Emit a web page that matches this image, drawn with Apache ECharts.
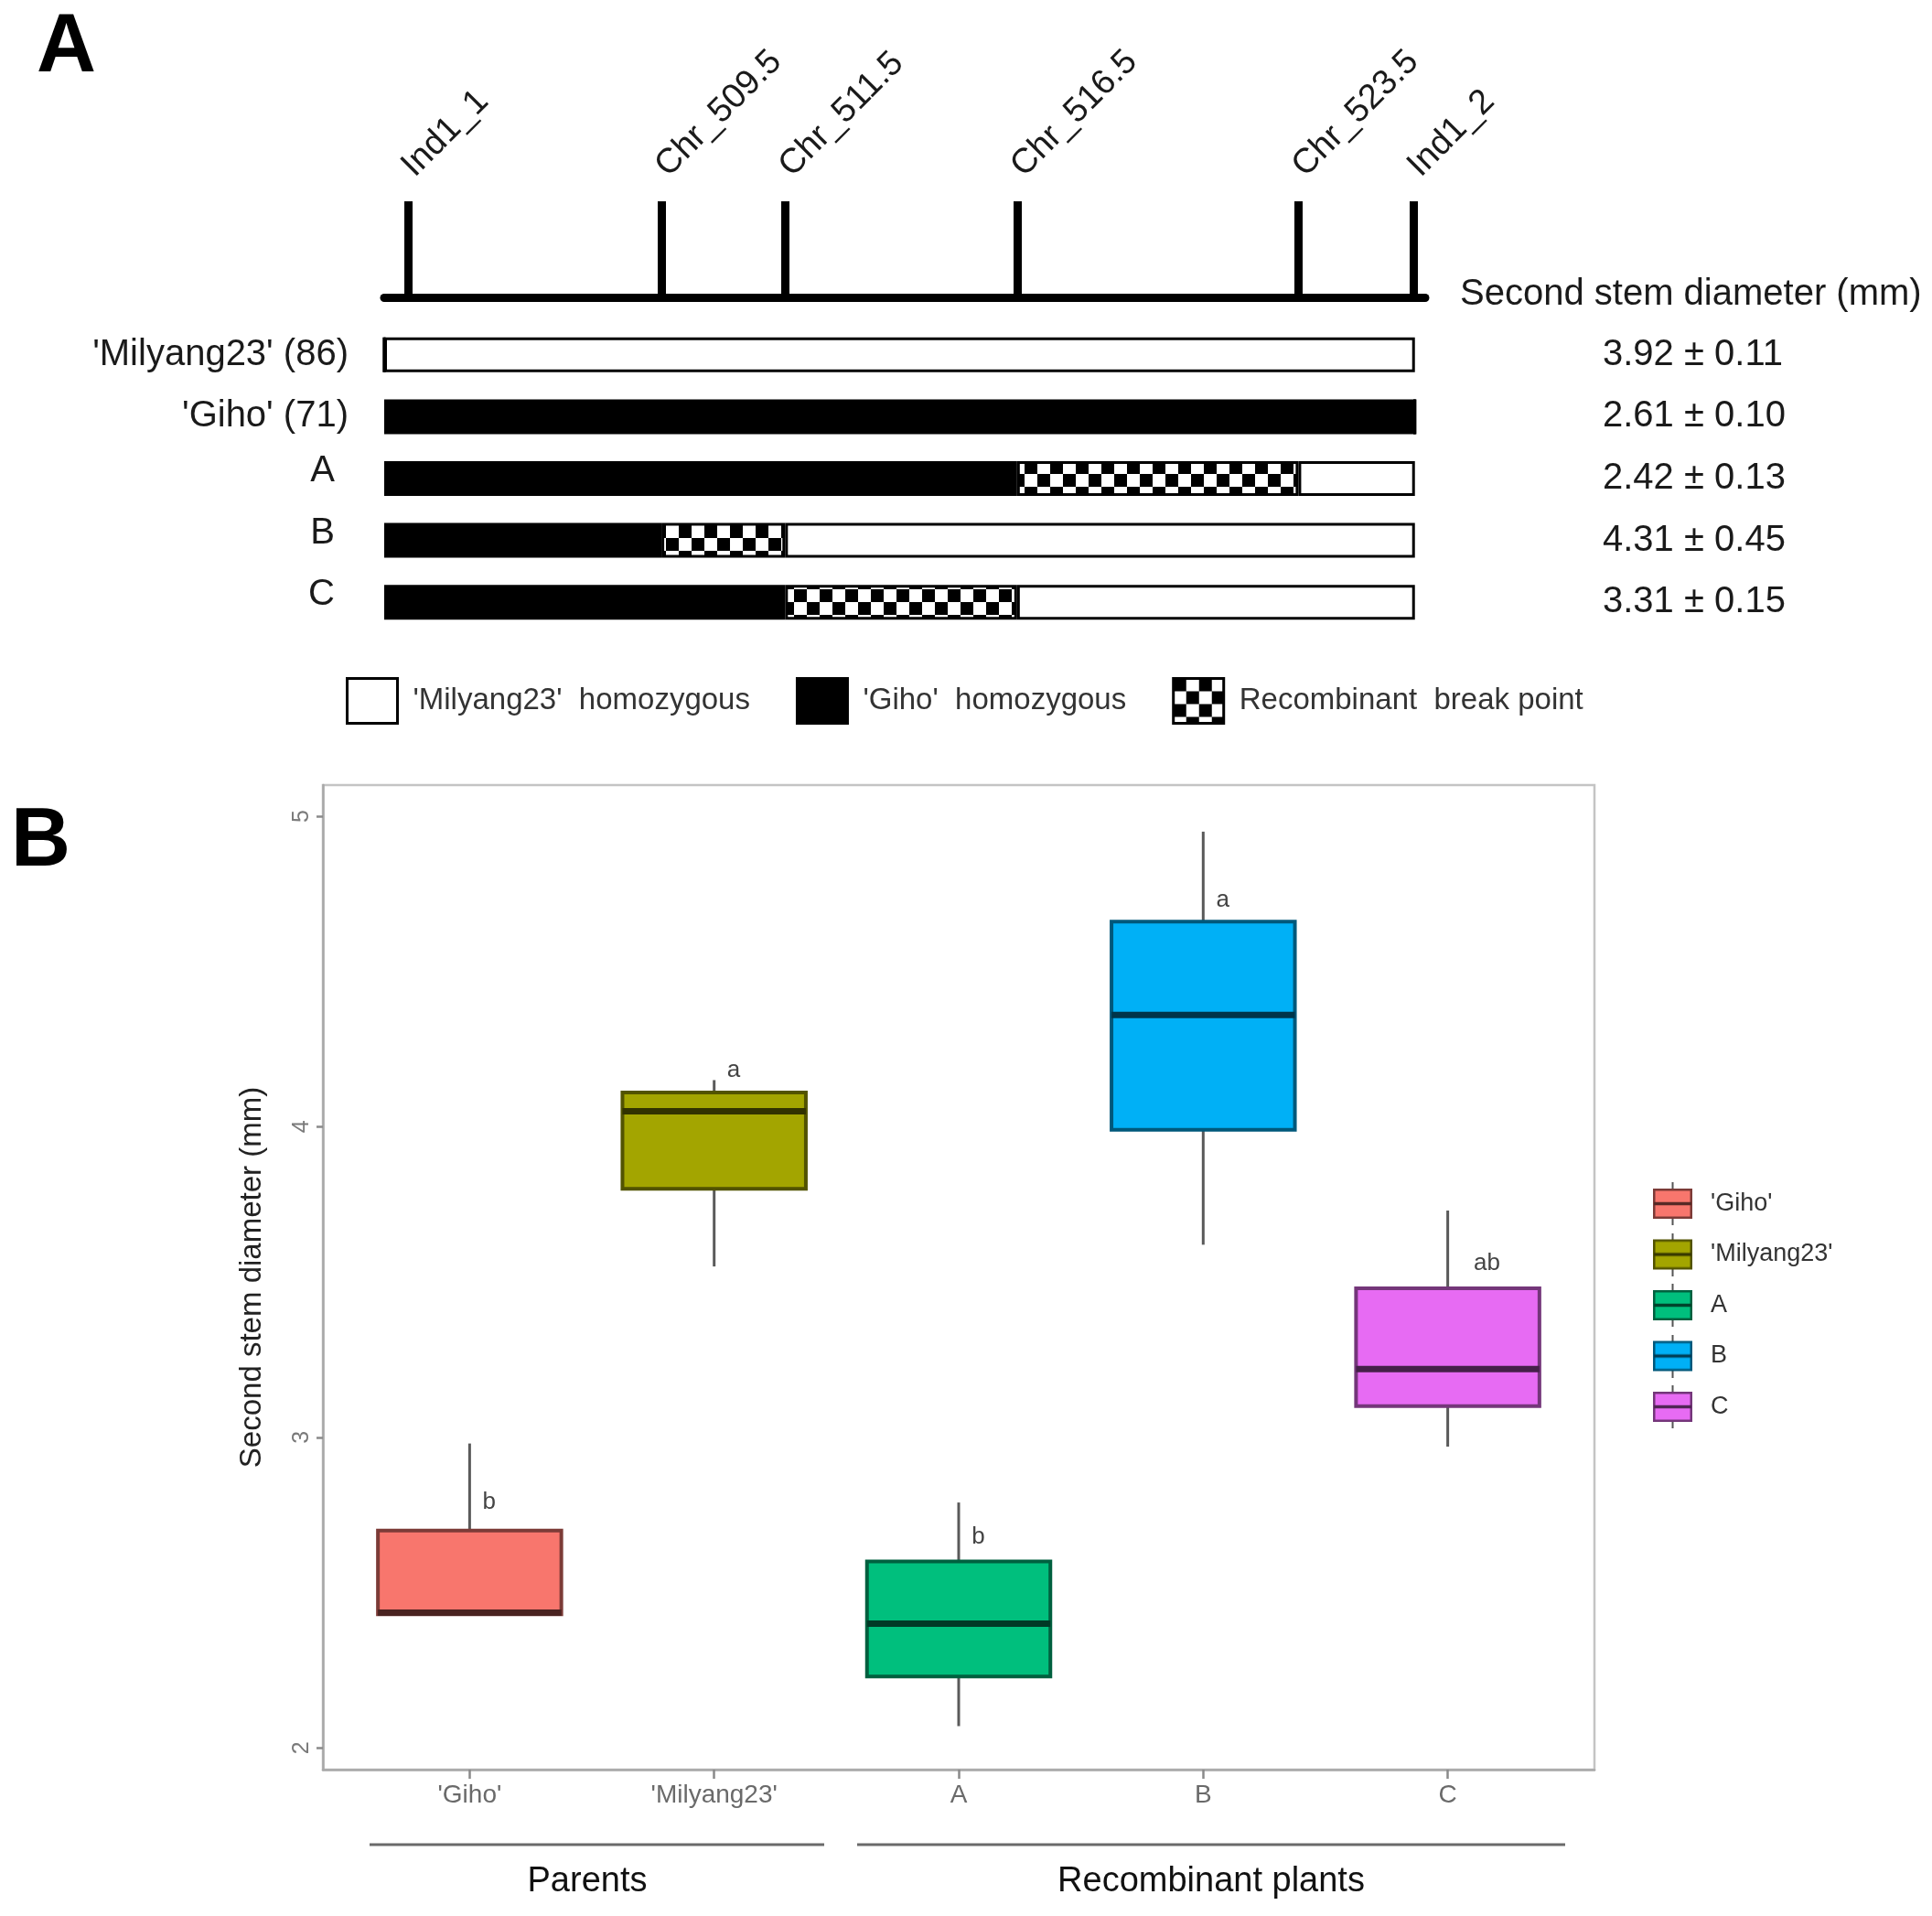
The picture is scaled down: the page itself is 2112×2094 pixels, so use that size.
<!DOCTYPE html>
<html><head><meta charset="utf-8">
<script src="https://cdn.jsdelivr.net/npm/echarts@6/dist/echarts.min.js"></script>
<style>html,body{margin:0;padding:0;background:#fff}#c{width:2112px;height:2094px}</style>
</head><body><div id="c"></div>
<script>
// ---------- Panel A data ----------
const markerNames = ['Ind1_1', 'Chr_509.5', 'Chr_511.5', 'Chr_516.5', 'Chr_523.5', 'Ind1_2'];
const markerPos = [2.3, 26.9, 38.9, 61.4, 88.7, 99.9];
const rowLabels = ["'Milyang23' (86)", "'Giho' (71)", 'A', 'B', 'C'];
const gihoEnd = [0, 100, 61.4, 26.9, 38.9];     // end of 'Giho' homozygous segment
const breakEnd = [0, 100, 88.7, 38.9, 61.4];    // end of recombinant break point segment
const meanVals = ['3.92', '2.61', '2.42', '4.31', '3.31'];
const seVals = ['0.11', '0.10', '0.13', '0.45', '0.15'];
const genoLegend = ["'Milyang23'  homozygous", "'Giho'  homozygous", "Recombinant  break point"];
const valueHeader = 'Second stem diameter (mm)';

// ---------- Panel B data ----------
const groups = ["'Giho'", "'Milyang23'", 'A', 'B', 'C'];
const boxMin = [2.43, 3.55, 2.07, 3.62, 2.97];
const boxQ1 = [2.43, 3.80, 2.23, 3.99, 3.10];
const boxMed = [2.435, 4.05, 2.40, 4.36, 3.22];
const boxQ3 = [2.70, 4.11, 2.60, 4.66, 3.48];
const boxMax = [2.98, 4.15, 2.79, 4.95, 3.73];
const sigLetters = ['b', 'a', 'b', 'a', 'ab'];
const letterY = [2.79, 4.18, 2.68, 4.73, 3.56];
const letterDX = [0.08, 0.08, 0.08, 0.08, 0.16];
const fills = ['#F8766D', '#A3A500', '#00BF7D', '#00B0F6', '#E76BF3'];
const yTicks = [2, 3, 4, 5];
const xTicks = [0, 1, 2, 3, 4];
const groupSets = ['Parents', 'Recombinant plants'];
const yTitleB = 'Second stem diameter (mm)';

const FONT = '"Liberation Sans", Arial, sans-serif';

function shade(hex, k) {
  const n = parseInt(hex.slice(1), 16);
  const r = Math.round(((n >> 16) & 255) * k), g = Math.round(((n >> 8) & 255) * k), b = Math.round((n & 255) * k);
  return 'rgb(' + r + ',' + g + ',' + b + ')';
}
function checkerCanvas(sz) {
  const c = document.createElement('canvas'); c.width = c.height = sz * 2;
  const g = c.getContext('2d');
  g.fillStyle = '#fff'; g.fillRect(0, 0, sz * 2, sz * 2);
  g.fillStyle = '#000'; g.fillRect(0, 0, sz, sz); g.fillRect(sz, sz, sz, sz);
  return c;
}
const checker = { image: checkerCanvas(14), repeat: 'repeat' };

function keyIcon(fill) {
  const w = 43, h = 47, c = document.createElement('canvas'); c.width = w; c.height = h;
  const g = c.getContext('2d');
  g.strokeStyle = '#555'; g.lineWidth = 2;
  g.beginPath(); g.moveTo(w / 2, 0); g.lineTo(w / 2, 9); g.moveTo(w / 2, h - 9); g.lineTo(w / 2, h); g.stroke();
  g.fillStyle = fill; g.fillRect(1, 8, w - 2, h - 16);
  g.strokeStyle = shade(fill, 0.5); g.lineWidth = 2.5; g.strokeRect(1.25, 8.25, w - 2.5, h - 16.5);
  g.strokeStyle = shade(fill, 0.35); g.lineWidth = 3.5;
  g.beginPath(); g.moveTo(1, h / 2); g.lineTo(w - 1, h / 2); g.stroke();
  return 'image://' + c.toDataURL();
}

const chart = echarts.init(document.getElementById('c'), null, { renderer: 'canvas' });

const blackSeg = gihoEnd.map(v => v);
const checkSeg = breakEnd.map((v, i) => +(v - gihoEnd[i]).toFixed(2));
const whiteSeg = breakEnd.map(v => +(100 - v).toFixed(2));

const barCommon = {
  type: 'bar', stack: 'geno', xAxisIndex: 0, yAxisIndex: 0, barWidth: 38,
  silent: true, animation: false
};

function boxSeries(i) {
  return {
    type: 'custom', name: groups[i], xAxisIndex: 1, yAxisIndex: 2, animation: false, silent: true,
    data: [[i, boxMin[i], boxQ1[i], boxMed[i], boxQ3[i], boxMax[i], letterY[i]]],
    encode: { x: 0, y: [1, 2, 3, 4, 5] },
    renderItem: function (params, api) {
      const x = api.value(0);
      const hw = api.size([0.75, 0])[0] / 2;
      const pMin = api.coord([x, api.value(1)]);
      const pQ1 = api.coord([x, api.value(2)]);
      const pMed = api.coord([x, api.value(3)]);
      const pQ3 = api.coord([x, api.value(4)]);
      const pMax = api.coord([x, api.value(5)]);
      const pL = api.coord([x + letterDX[i], api.value(6)]);
      const wStyle = { stroke: '#5a5a5a', lineWidth: 3 };
      return {
        type: 'group', children: [
          { type: 'line', shape: { x1: pMax[0], y1: pMax[1], x2: pQ3[0], y2: pQ3[1] }, style: wStyle },
          { type: 'line', shape: { x1: pQ1[0], y1: pQ1[1], x2: pMin[0], y2: pMin[1] }, style: wStyle },
          { type: 'rect', shape: { x: pQ3[0] - hw, y: pQ3[1], width: 2 * hw, height: pQ1[1] - pQ3[1] },
            style: { fill: fills[i], stroke: shade(fills[i], 0.5), lineWidth: 4 } },
          { type: 'line', shape: { x1: pMed[0] - hw, y1: pMed[1], x2: pMed[0] + hw, y2: pMed[1] },
            style: { stroke: shade(fills[i], 0.3), lineWidth: 7 } },
          { type: 'text', x: pL[0], y: pL[1],
            style: { text: sigLetters[i], fontSize: 26, fill: '#444', align: 'center', verticalAlign: 'middle', fontFamily: FONT } }
        ]
      };
    }
  };
}

const option = {
  backgroundColor: '#fff',
  animation: false,
  textStyle: { fontFamily: FONT },
  grid: [
    { left: 420, width: 1138, top: 354, height: 338 },
    { left: 353, right: 369, top: 858, bottom: 160, show: true, borderColor: '#c4c4c4', borderWidth: 2.5 }
  ],
  xAxis: [
    {
      type: 'value', gridIndex: 0, position: 'top', offset: 29, min: 0, max: 101,
      axisLine: { show: true, lineStyle: { color: '#000', width: 9 } },
      axisTick: { show: true, customValues: markerPos, length: 105, inside: false, lineStyle: { color: '#000', width: 9 } },
      axisLabel: {
        show: true, customValues: markerPos, rotate: -45, margin: 138,
        formatter: v => markerNames[markerPos.indexOf(v)] || '',
        fontSize: 38, color: '#1a1a1a', fontFamily: FONT
      },
      splitLine: { show: false }
    },
    {
      type: 'value', gridIndex: 1, min: -0.6, max: 4.6,
      axisLine: { show: true, onZero: false, lineStyle: { color: '#a8a8a8', width: 2.5 } },
      axisTick: { show: true, customValues: xTicks, length: 10, lineStyle: { color: '#8a8a8a', width: 2.5 } },
      axisLabel: {
        show: true, customValues: xTicks, margin: 14,
        formatter: v => groups[Math.round(v)], fontSize: 28, color: '#6a6a6a', fontFamily: FONT
      },
      splitLine: { show: false }
    }
  ],
  yAxis: [
    {
      type: 'category', gridIndex: 0, inverse: true, data: rowLabels,
      axisLine: { show: false }, axisTick: { show: false },
      axisLabel: {
        margin: 39, fontSize: 40, color: '#1a1a1a', fontFamily: FONT,
        formatter: (v, idx) => idx < 2 ? v : '{s|' + v + '}',
        rich: { s: { fontSize: 40, fontFamily: FONT, color: '#1a1a1a', padding: [0, 15, 16, 0] } }
      }
    },
    {
      type: 'category', gridIndex: 0, inverse: true, position: 'right', data: meanVals,
      axisLine: { show: false }, axisTick: { show: false },
      axisLabel: {
        margin: 194, fontSize: 40, color: '#1a1a1a', fontFamily: FONT,
        formatter: (v, idx) => meanVals[idx] + ' \u00b1 ' + seVals[idx]
      }
    },
    {
      type: 'value', gridIndex: 1, min: 1.93, max: 5.1,
      name: yTitleB, nameLocation: 'middle', nameRotate: 90, nameGap: 61,
      nameTextStyle: { fontSize: 33, color: '#222', fontFamily: FONT },
      axisLine: { show: true, onZero: false, lineStyle: { color: '#a8a8a8', width: 2.5 } },
      axisTick: { show: true, customValues: yTicks, length: 7, lineStyle: { color: '#8a8a8a', width: 2.5 } },
      axisLabel: { show: true, customValues: yTicks, rotate: 90, margin: 10, fontSize: 25, color: '#7a7a7a', fontFamily: FONT },
      splitLine: { show: false }
    }
  ],
  legend: [
    {
      orient: 'horizontal', left: 373, top: 735, itemWidth: 55, itemHeight: 49, itemGap: 50,
      selectedMode: false, icon: 'rect',
      textStyle: { fontSize: 33, color: '#333', fontFamily: FONT, padding: [0, 0, 0, 12] },
      data: [
        { name: genoLegend[0], itemStyle: { color: '#fff', borderColor: '#000', borderWidth: 3 } },
        { name: genoLegend[1], itemStyle: { color: '#000', borderColor: '#000', borderWidth: 3 } },
        { name: genoLegend[2], itemStyle: { color: checker, borderColor: '#000', borderWidth: 3 } }
      ]
    },
    {
      orient: 'vertical', left: 1802, top: 1287, itemWidth: 43, itemHeight: 47, itemGap: 8.5,
      selectedMode: false,
      textStyle: { fontSize: 27, color: '#333', fontFamily: FONT, padding: [0, 0, 0, 15] },
      data: groups.map((g, i) => ({ name: g, icon: keyIcon(fills[i]) }))
    }
  ],
  graphic: [
    { type: 'text', left: 40, top: 8, style: { text: 'A', fontSize: 90, fontWeight: 'bold', fill: '#000', fontFamily: FONT } },
    { type: 'text', left: 12, top: 876, style: { text: 'B', fontSize: 90, fontWeight: 'bold', fill: '#000', fontFamily: FONT } },
    { type: 'text', left: 1596, top: 302, style: { text: valueHeader, fontSize: 40, fill: '#1a1a1a', fontFamily: FONT } },
    { type: 'line', shape: { x1: 404, y1: 2016, x2: 901, y2: 2016 }, style: { stroke: '#6a6a6a', lineWidth: 3 } },
    { type: 'line', shape: { x1: 937, y1: 2016, x2: 1711, y2: 2016 }, style: { stroke: '#6a6a6a', lineWidth: 3 } },
    { type: 'text', x: 642, y: 2057, style: { text: groupSets[0], fontSize: 38, fill: '#111', align: 'center', verticalAlign: 'middle', fontFamily: FONT } },
    { type: 'text', x: 1324, y: 2057, style: { text: groupSets[1], fontSize: 38, fill: '#111', align: 'center', verticalAlign: 'middle', fontFamily: FONT } }
  ],
  series: [
    Object.assign({}, barCommon, { name: genoLegend[1], data: blackSeg,
      itemStyle: { color: '#000', borderColor: '#000', borderWidth: 3 } }),
    Object.assign({}, barCommon, { name: genoLegend[2], data: checkSeg,
      itemStyle: { color: checker, borderColor: '#000', borderWidth: 3 } }),
    Object.assign({}, barCommon, { name: genoLegend[0], data: whiteSeg,
      itemStyle: { color: '#fff', borderColor: '#000', borderWidth: 3 } })
  ].concat(groups.map((g, i) => boxSeries(i)))
};
chart.setOption(option);
</script>
</body></html>
